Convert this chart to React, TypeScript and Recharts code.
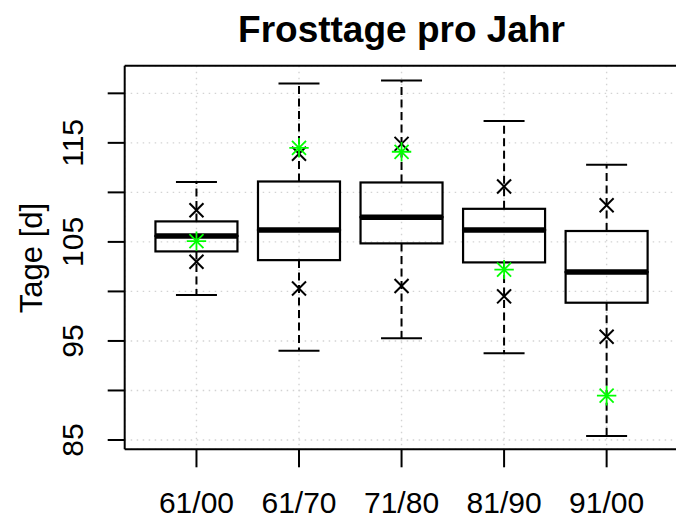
import React from 'react';
import { ComposedChart, Bar, Scatter, XAxis, YAxis, CartesianGrid, ReferenceLine } from 'recharts';

const categories = ['61/00', '61/70', '71/80', '81/90', '91/00'];
const whiskerHigh = [111.06, 121.0, 121.3, 117.2, 112.78];
const quartile3 = [107.07, 111.1, 111.0, 108.34, 106.1];
const medians = [105.6, 106.2, 107.5, 106.2, 101.95];
const quartile1 = [104.04, 103.16, 104.85, 102.93, 98.86];
const whiskerLow = [99.63, 94.0, 95.26, 93.75, 85.4];
const upperMarks = [108.2, 113.9, 114.9, 110.6, 108.7];
const lowerMarks = [103.0, 100.3, 100.54, 99.5, 95.43];
const currentValues = [105.08, 114.5, 114.1, 102.2, 89.47];
const yTicks = [85, 90, 95, 100, 105, 110, 115, 120];
const yLabeled = [85, 95, 105, 115];
const yDomain = [84.06, 122.79];

const rows = categories.map((name, i) => ({
  name,
  hi: whiskerHigh[i],
  q3: quartile3[i],
  med: medians[i],
  q1: quartile1[i],
  lo: whiskerLow[i],
  up: upperMarks[i],
  down: lowerMarks[i],
  cur: currentValues[i],
}));

const FONT = '"Liberation Sans", Arial, Helvetica, sans-serif';
const W = 680;
const H = 519;
const PLOT_TOP = 65.7;
const PLOT_BOTTOM = 449.3;
const PLOT_LEFT = 124.7;
const PLOT_RIGHT = 678.4;
const XAXIS_H = 60;
const PAD = 20.5;

const norm = (y: number, h: number) => [Math.min(y, y + h), Math.max(y, y + h)];

const UpperWhisker = (p: any) => {
  const [top, bot] = norm(p.y, p.height);
  const cx = p.x + p.width / 2;
  const cap = p.width / 4;
  return (
    <g>
      <line x1={cx} x2={cx} y1={bot} y2={top} stroke="#000" strokeWidth={2} strokeDasharray="8 4.5" />
      <line x1={cx - cap} x2={cx + cap} y1={top} y2={top} stroke="#000" strokeWidth={2} />
    </g>
  );
};

const LowerWhisker = (p: any) => {
  const [top, bot] = norm(p.y, p.height);
  const cx = p.x + p.width / 2;
  const cap = p.width / 4;
  return (
    <g>
      <line x1={cx} x2={cx} y1={top} y2={bot} stroke="#000" strokeWidth={2} strokeDasharray="8 4.5" />
      <line x1={cx - cap} x2={cx + cap} y1={bot} y2={bot} stroke="#000" strokeWidth={2} />
    </g>
  );
};

const BoxUpper = (p: any) => {
  const [top, bot] = norm(p.y, p.height);
  return <rect x={p.x} y={top} width={p.width} height={bot - top} fill="none" stroke="#000" strokeWidth={2.2} />;
};

const BoxLower = (p: any) => {
  const [top, bot] = norm(p.y, p.height);
  return (
    <g>
      <rect x={p.x} y={top} width={p.width} height={bot - top} fill="none" stroke="#000" strokeWidth={2.2} />
      <line x1={p.x} x2={p.x + p.width} y1={top} y2={top} stroke="#000" strokeWidth={5.5} />
    </g>
  );
};

const XMark = (p: any) => {
  const r = 7;
  return (
    <g stroke="#000" strokeWidth={2}>
      <line x1={p.cx - r} y1={p.cy - r} x2={p.cx + r} y2={p.cy + r} />
      <line x1={p.cx - r} y1={p.cy + r} x2={p.cx + r} y2={p.cy - r} />
    </g>
  );
};

const Asterisk = (p: any) => {
  const r = 9.7;
  const d = 7;
  return (
    <g stroke="#00FF00" strokeWidth={1.8}>
      <line x1={p.cx - r} y1={p.cy} x2={p.cx + r} y2={p.cy} />
      <line x1={p.cx} y1={p.cy - r} x2={p.cx} y2={p.cy + r} />
      <line x1={p.cx - d} y1={p.cy - d} x2={p.cx + d} y2={p.cy + d} />
      <line x1={p.cx - d} y1={p.cy + d} x2={p.cx + d} y2={p.cy - d} />
    </g>
  );
};

const XTick = (p: any) => (
  <g>
    <line x1={p.x} x2={p.x} y1={PLOT_BOTTOM} y2={PLOT_BOTTOM + 18} stroke="#000" strokeWidth={2} />
    <text x={p.x} y={513} textAnchor="middle" fontFamily={FONT} fontSize={30} fill="#000">
      {p.payload.value}
    </text>
  </g>
);

const YTick = (p: any) => {
  const v = p.payload.value;
  if (!yLabeled.includes(v)) return null;
  const bx = 83.3;
  return (
    <text x={bx} y={p.y} transform={`rotate(-90, ${bx}, ${p.y})`} textAnchor="middle" fontFamily={FONT} fontSize={30} fill="#000">
      {v}
    </text>
  );
};

const hiddenAxis = (id: string) => (
  <XAxis key={id} xAxisId={id} dataKey="name" type="category" hide padding={{ left: PAD, right: PAD }} />
);

export default function App() {
  return (
    <div style={{ position: 'fixed', left: 0, top: 0, width: W, height: H, background: '#fff' }}>
      <ComposedChart
        width={W}
        height={H}
        data={rows}
        barCategoryGap="10%"
        margin={{ top: PLOT_TOP, right: W - PLOT_RIGHT, bottom: H - PLOT_BOTTOM - XAXIS_H, left: 0 }}
      >
        <CartesianGrid xAxisId="main" stroke="#D3D3D3" strokeWidth={1.4} strokeDasharray="1.5 4.5" />
        <XAxis
          xAxisId="main"
          dataKey="name"
          type="category"
          height={XAXIS_H}
          interval={0}
          padding={{ left: PAD, right: PAD }}
          tickSize={18}
          tickMargin={2}
          axisLine={{ stroke: '#000', strokeWidth: 2 }}
          tickLine={{ stroke: '#000', strokeWidth: 2 }}
          tick={<XTick />}
        />
        {hiddenAxis('uw')}
        {hiddenAxis('lw')}
        {hiddenAxis('bu')}
        {hiddenAxis('bl')}
        <YAxis
          type="number"
          domain={yDomain}
          ticks={yTicks}
          allowDataOverflow
          width={PLOT_LEFT}
          interval={0}
          tickSize={17}
          tickMargin={0}
          axisLine={{ stroke: '#000', strokeWidth: 2 }}
          tickLine={{ stroke: '#000', strokeWidth: 2 }}
          tick={<YTick />}
        />
        <ReferenceLine xAxisId="main" y={yDomain[1]} stroke="#000" strokeWidth={2} />
        <ReferenceLine xAxisId="main" y={yDomain[0]} stroke="#000" strokeWidth={2} />
        <Bar xAxisId="uw" dataKey={(d: any) => [d.q3, d.hi]} shape={UpperWhisker} isAnimationActive={false} />
        <Bar xAxisId="lw" dataKey={(d: any) => [d.lo, d.q1]} shape={LowerWhisker} isAnimationActive={false} />
        <Bar xAxisId="bu" dataKey={(d: any) => [d.med, d.q3]} shape={BoxUpper} isAnimationActive={false} />
        <Bar xAxisId="bl" dataKey={(d: any) => [d.q1, d.med]} shape={BoxLower} isAnimationActive={false} />
        <Scatter xAxisId="main" dataKey="up" shape={XMark} isAnimationActive={false} />
        <Scatter xAxisId="main" dataKey="down" shape={XMark} isAnimationActive={false} />
        <Scatter xAxisId="main" dataKey="cur" shape={Asterisk} isAnimationActive={false} />
      </ComposedChart>
      <svg width={W} height={H} style={{ position: 'absolute', left: 0, top: 0, pointerEvents: 'none' }}>
        <text x={401.5} y={42} textAnchor="middle" fontFamily={FONT} fontWeight="bold" fontSize={37} fill="#000">
          Frosttage pro Jahr
        </text>
        <text x={41.5} y={258} transform="rotate(-90, 41.5, 258)" textAnchor="middle" fontFamily={FONT} fontSize={31} fill="#000">
          Tage [d]
        </text>
      </svg>
    </div>
  );
}
